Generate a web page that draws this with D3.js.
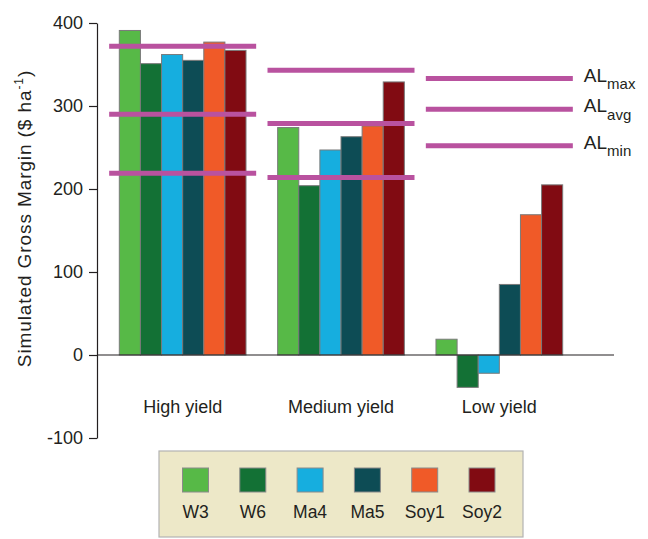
<!DOCTYPE html>
<html><head><meta charset="utf-8">
<script src="https://cdn.jsdelivr.net/npm/d3@7"></script>
<style>body{margin:0;background:#fff}svg{display:block;font-family:"Liberation Sans",Arial,sans-serif}</style>
</head><body><div id="chart"></div>
<script>
const groups = ["High yield", "Medium yield", "Low yield"];
const series = ["W3", "W6", "Ma4", "Ma5", "Soy1", "Soy2"];
const colors = ["#57b947", "#137135", "#16aedf", "#0d4c55", "#f05a28", "#810b12"];
const values = {
  "W3":   [391, 274, 19],
  "W6":   [351, 204, -39],
  "Ma4":  [362, 247, -22],
  "Ma5":  [355, 263, 85],
  "Soy1": [377, 276, 169],
  "Soy2": [367, 329, 205]
};
const alMax = [372, 343, 333];
const alAvg = [290, 279, 296];
const alMin = [219, 214, 252];
const yTicks = [-100, 0, 100, 200, 300, 400];

const W = 648, H = 539;
const svg = d3.select("#chart").append("svg").attr("width", W).attr("height", H);

const y = d3.scaleLinear().domain([-100, 400]).range([438, 23]);
const x0 = d3.scaleBand().domain(groups).range([103.5, 578.5]).paddingInner(0);
const innerW = 126.7;
const x1 = d3.scaleBand().domain(series).range([0, innerW]);

// bars
const gBars = svg.append("g");
groups.forEach((g, gi) => {
  const gx = x0(g) + x0.bandwidth() / 2 - innerW / 2;
  series.forEach((s, si) => {
    const v = values[s][gi];
    gBars.append("rect")
      .attr("x", gx + x1(s))
      .attr("width", x1.bandwidth())
      .attr("y", y(Math.max(0, v)))
      .attr("height", Math.abs(y(v) - y(0)))
      .attr("fill", colors[si])
      .attr("stroke", "#7a7a7a")
      .attr("stroke-width", 1);
  });
});

// AL lines
const lineW = 147;
const alColor = "#b9529f";
[alMax, alAvg, alMin].forEach(arr => {
  groups.forEach((g, gi) => {
    const cx = x0(g) + x0.bandwidth() / 2;
    svg.append("line")
      .attr("x1", cx - lineW / 2).attr("x2", cx + lineW / 2)
      .attr("y1", y(arr[gi])).attr("y2", y(arr[gi]))
      .attr("stroke", alColor).attr("stroke-width", 5);
  });
});

// AL labels
const lastG = groups[groups.length - 1];
const labX = x0(lastG) + x0.bandwidth() / 2 + lineW / 2 + 11;
[["max", alMax], ["avg", alAvg], ["min", alMin]].forEach(([sub, arr]) => {
  const t = svg.append("text")
    .attr("x", labX).attr("y", y(arr[groups.length - 1]) + 3)
    .attr("font-size", 19).attr("fill", "#231f20");
  t.append("tspan").text("AL");
  t.append("tspan").attr("dy", 7.5).attr("font-size", 15).text(sub);
});

// x axis line
svg.append("line").attr("x1", 97).attr("x2", 614)
  .attr("y1", y(0)).attr("y2", y(0)).attr("stroke", "#231f20").attr("stroke-width", 1.2);

// group labels
groups.forEach(g => {
  svg.append("text")
    .attr("x", x0(g) + x0.bandwidth() / 2).attr("y", 413)
    .attr("text-anchor", "middle").attr("font-size", 18).attr("fill", "#231f20")
    .text(g);
});

// y axis
const yAxis = d3.axisLeft(y).tickValues(yTicks).tickFormat(d => String(d))
  .tickSize(8).tickSizeOuter(0).tickPadding(6);
const ya = svg.append("g").attr("transform", "translate(97,0)").call(yAxis);
ya.select(".domain").attr("stroke", "#231f20").attr("stroke-width", 1.2);
ya.selectAll(".tick line").attr("stroke", "#231f20").attr("stroke-width", 1.2);
ya.selectAll(".tick text").attr("font-size", 18).attr("fill", "#231f20")
  .attr("font-family", "Liberation Sans, Arial, sans-serif");

// y label
const yl = svg.append("text")
  .attr("transform", "translate(31,218.5) rotate(-90)")
  .attr("text-anchor", "middle").attr("font-size", 19).attr("letter-spacing", 0.9)
  .attr("fill", "#231f20");
yl.append("tspan").text("Simulated Gross Margin ($ ha");
yl.append("tspan").attr("dy", -8).attr("font-size", 12).text("-1");
yl.append("tspan").attr("dy", 8).text(")");

// legend
const lg = svg.append("g");
lg.append("rect").attr("x", 159).attr("y", 451).attr("width", 364).attr("height", 86)
  .attr("fill", "#ede8c8").attr("stroke", "#b3b3b3").attr("stroke-width", 1.2);
const lx = d3.scalePoint().domain(series).range([195.5, 482]);
series.forEach((s, si) => {
  lg.append("rect").attr("x", lx(s) - 13).attr("y", 468).attr("width", 26).attr("height", 24)
    .attr("fill", colors[si]).attr("stroke", "#8a8a8a").attr("stroke-width", 1);
  lg.append("text").attr("x", lx(s)).attr("y", 517.5).attr("text-anchor", "middle")
    .attr("font-size", 17.5).attr("fill", "#231f20").text(s);
});
</script></body></html>
